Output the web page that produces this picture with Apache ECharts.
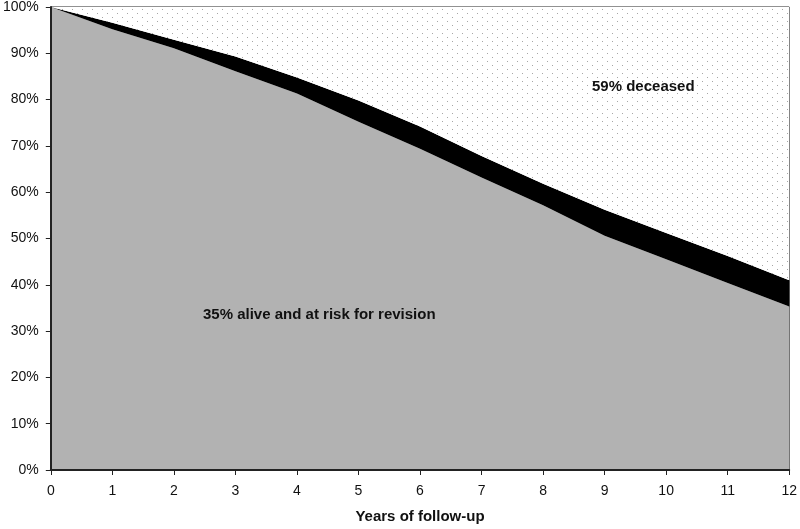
<!DOCTYPE html>
<html>
<head>
<meta charset="utf-8">
<script src="https://cdn.jsdelivr.net/npm/echarts@6/dist/echarts.min.js"></script>
<style>html,body{margin:0;padding:0;background:#fff}#c{width:800px;height:529px}</style>
</head>
<body>
<div id="c"></div>
<script>
var years = ['0','1','2','3','4','5','6','7','8','9','10','11','12'];
var alive = [100, 95.2, 91.1, 86.1, 81.3, 75.2, 69.4, 63.2, 57.2, 50.6, 45.5, 40.4, 35.3];
var upperBound = [100, 96.6, 92.9, 89.3, 84.8, 79.8, 74.2, 67.8, 61.8, 56.2, 51.2, 46.2, 41.0];
var yTicks = ['0%','10%','20%','30%','40%','50%','60%','70%','80%','90%','100%'];
var revised = upperBound.map(function(v,i){return +(v - alive[i]).toFixed(2);});
var deceased = upperBound.map(function(v){return +(100 - v).toFixed(2);});

var tile = document.createElement('canvas');
tile.width = 10; tile.height = 8;
var tc = tile.getContext('2d');
tc.fillStyle = '#ffffff'; tc.fillRect(0,0,10,8);
tc.fillStyle = '#a6a6a6';
tc.fillRect(2,1,1,1); tc.fillRect(7,5,1,1);

var font = '"Liberation Sans", Arial, sans-serif';
var chart = echarts.init(document.getElementById('c'), null, {renderer:'canvas'});
chart.setOption({
  animation: false,
  backgroundColor: '#fff',
  grid: {left: 50, right: 9, top: 7, bottom: 56, show: true, borderColor: '#222', borderWidth: 1, backgroundColor: 'transparent'},
  xAxis: {
    type: 'category', data: years, boundaryGap: false,
    name: 'Years of follow-up', nameLocation: 'middle', nameGap: 39,
    nameTextStyle: {fontFamily: font, fontSize: 15, fontWeight: 'bold', color: '#111'},
    axisLine: {lineStyle: {color: '#222', width: 2}},
    axisTick: {show: true, length: 5, lineStyle: {color: '#222'}},
    axisLabel: {fontFamily: font, fontSize: 14, color: '#111', margin: 14},
    splitLine: {show: false}, z: 10
  },
  yAxis: {
    type: 'value', min: 0, max: 100, interval: 10,
    axisLine: {show: true, lineStyle: {color: '#222', width: 2}},
    axisTick: {show: true, length: 5, lineStyle: {color: '#222'}},
    axisLabel: {fontFamily: font, fontSize: 14, color: '#111', margin: 12,
      formatter: function(v){ return yTicks[Math.round(v/10)]; }},
    splitLine: {show: false}, z: 10
  },
  series: [
    {type: 'line', stack: 's', data: alive, symbol: 'none', lineStyle: {width: 0}, areaStyle: {color: '#b2b2b2', opacity: 1}},
    {type: 'line', stack: 's', data: revised, symbol: 'none', lineStyle: {width: 0}, areaStyle: {color: '#000', opacity: 1}},
    {type: 'line', stack: 's', data: deceased, symbol: 'none', lineStyle: {width: 0}, areaStyle: {color: {image: tile, repeat: 'repeat'}, opacity: 1}}
  ],
  graphic: [
    {type: 'text', z: 100, x: 203, y: 307, style: {text: '35% alive and at risk for revision', fontFamily: font, fontSize: 15, fontWeight: 'bold', fill: '#111'}},
    {type: 'text', z: 100, x: 592, y: 79, style: {text: '59% deceased', fontFamily: font, fontSize: 15, fontWeight: 'bold', fill: '#111'}}
  ]
});
</script>
</body>
</html>
